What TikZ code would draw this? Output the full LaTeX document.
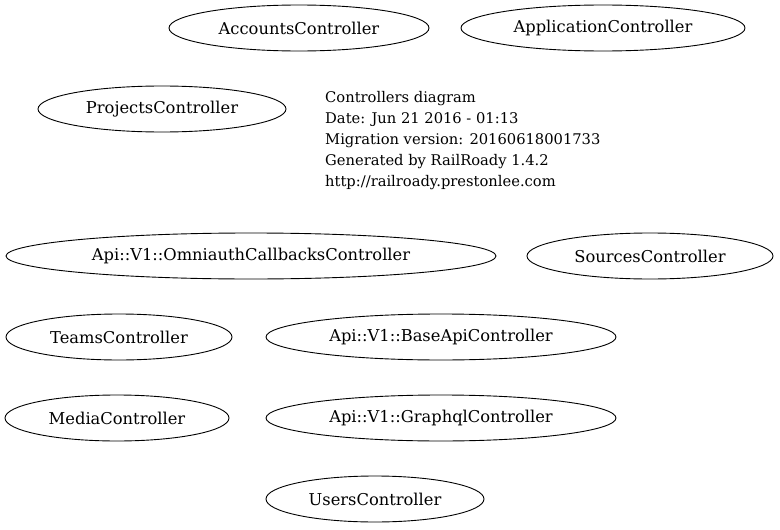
\documentclass[tikz,border=0pt]{standalone}
\usepackage{fontspec}
\setmainfont{DejaVu Serif}
\usetikzlibrary{shapes.geometric}
\tikzset{
  ctrl/.style={draw,line width=0.9pt,ellipse,inner sep=0pt,minimum height=46pt,
    font=\fontsize{16.3}{18}\selectfont},
  info/.style={align=left,inner sep=0pt,font=\fontsize{14.7}{21}\selectfont},
}

\begin{document}
\begin{tikzpicture}[x=1pt,y=-1pt]
  \useasboundingbox (0,0) rectangle (780,530);
  % controllers
  \node[ctrl,minimum width=260pt] (accounts) at (299,28) {AccountsController};
  \node[ctrl,minimum width=284pt] (application) at (603,28) {ApplicationController};
  \node[ctrl,minimum width=248pt] (projects) at (162,109) {ProjectsController};
  \node[ctrl,minimum width=490pt] (omniauth) at (251,256) {Api::V1::OmniauthCallbacksController};
  \node[ctrl,minimum width=246pt] (sources) at (650,256) {SourcesController};
  \node[ctrl,minimum width=226pt] (teams) at (119,337) {TeamsController};
  \node[ctrl,minimum width=350pt] (baseapi) at (441,337) {Api::V1::BaseApiController};
  \node[ctrl,minimum width=224pt] (media) at (117,418) {MediaController};
  \node[ctrl,minimum width=350pt] (graphql) at (441,418) {Api::V1::GraphqlController};
  \node[ctrl,minimum width=218pt] (users) at (375,499) {UsersController};

  % legend
  \node[info,anchor=north west] (legend) at (325,91) {Controllers diagram\\
    Date: Jun 21 2016 - 01:13\\
    Migration version: 20160618001733\\
    Generated by RailRoady 1.4.2\\
    http://railroady.prestonlee.com};
\end{tikzpicture}
\end{document}
